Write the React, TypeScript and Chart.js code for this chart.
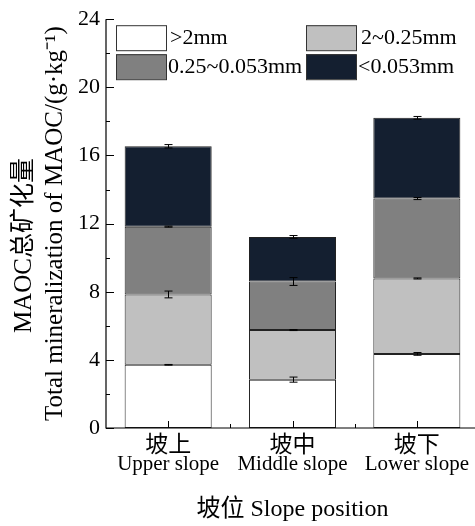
import React, { useEffect, useRef } from "react";
import { Chart, registerables } from "chart.js";

Chart.register(...registerables);

const categoriesZh = ["坡上", "坡中", "坡下"];
const categoriesEn = ["Upper slope", "Middle slope", "Lower slope"];
const seriesLabels = [">2mm", "2~0.25mm", "0.25~0.053mm", "<0.053mm"];
const seriesColors = ["#ffffff", "#c0c0c0", "#808080", "#141f30"];

const gt2 = [3.71, 2.84, 4.35];
const mid1 = [4.13, 2.91, 4.43];
const mid2 = [3.98, 2.85, 4.69];
const lt = [4.72, 2.62, 4.74];

const gt2Err = [0.02, 0.15, 0.08];
const mid1Err = [0.2, 0.03, 0.03];
const mid2Err = [0.03, 0.23, 0.06];
const ltErr = [0.1, 0.08, 0.08];

const yMin = 0;
const yMax = 24;
const yStep = 4;

const yTitleZh = "MAOC总矿化量";
const yTitleEn = "Total mineralization of MAOC/(g·kg⁻¹)";
const xTitle = "坡位 Slope position";

const FONT = '"Liberation Serif", "Times New Roman", "Noto Sans CJK SC", serif';
const CJK = '"Noto Sans CJK SC", "Liberation Serif", serif';

const seriesValues = [gt2, mid1, mid2, lt];
const seriesErrors = [gt2Err, mid1Err, mid2Err, ltErr];

const errorBarPlugin = {
  id: "errorBars",
  afterDatasetsDraw(chart: any) {
    const ctx = chart.ctx;
    const y = chart.scales.y;
    ctx.save();
    ctx.strokeStyle = "#000";
    ctx.lineWidth = 1;
    const cum = categoriesEn.map(() => 0);
    chart.data.datasets.forEach((ds: any, di: number) => {
      const meta = chart.getDatasetMeta(di);
      meta.data.forEach((el: any, i: number) => {
        cum[i] += ds.data[i];
        const e = seriesErrors[di][i];
        const top = y.getPixelForValue(cum[i] + e);
        const bot = y.getPixelForValue(cum[i] - e);
        const x = Math.round(el.x) + 0.5;
        ctx.beginPath();
        ctx.moveTo(x, top);
        ctx.lineTo(x, bot);
        ctx.moveTo(x - 4, top);
        ctx.lineTo(x + 4, top);
        ctx.moveTo(x - 4, bot);
        ctx.lineTo(x + 4, bot);
        ctx.stroke();
      });
    });
    ctx.restore();
  },
};

const axesPlugin = {
  id: "axesInward",
  afterDraw(chart: any) {
    const ctx = chart.ctx;
    const { left, right, top, bottom } = chart.chartArea;
    const x = chart.scales.x;
    const y = chart.scales.y;
    ctx.save();
    ctx.strokeStyle = "#000";
    ctx.lineWidth = 1.2;
    ctx.beginPath();
    ctx.moveTo(left, top);
    ctx.lineTo(left, bottom);
    ctx.lineTo(right, bottom);
    ctx.stroke();
    ctx.lineWidth = 1;
    ctx.beginPath();
    for (let v = yMin; v <= yMax; v += yStep / 2) {
      const py = Math.round(y.getPixelForValue(v)) + 0.5;
      const len = v % yStep === 0 ? 8 : 4;
      ctx.moveTo(left, py);
      ctx.lineTo(left + len, py);
    }
    const n = categoriesEn.length;
    for (let i = 0; i < n; i++) {
      const px = Math.round(x.getPixelForValue(i)) + 0.5;
      ctx.moveTo(px, bottom);
      ctx.lineTo(px, bottom - 7);
      if (i < n - 1) {
        const mx = Math.round((x.getPixelForValue(i) + x.getPixelForValue(i + 1)) / 2) + 0.5;
        ctx.moveTo(mx, bottom);
        ctx.lineTo(mx, bottom - 4);
      }
    }
    ctx.stroke();
    // category labels: Chinese line + English line
    ctx.fillStyle = "#000";
    ctx.textAlign = "center";
    for (let i = 0; i < n; i++) {
      const px = x.getPixelForValue(i);
      ctx.font = `23px ${CJK}`;
      ctx.textBaseline = "middle";
      ctx.fillText(categoriesZh[i], px, bottom + 15.5);
      ctx.font = `21px ${FONT}`;
      ctx.textBaseline = "alphabetic";
      ctx.fillText(categoriesEn[i], px, bottom + 42);
    }
    // first line of the y-axis title
    ctx.save();
    ctx.translate(24.6, (top + bottom) / 2 + 22);
    ctx.rotate(-Math.PI / 2);
    ctx.font = `25px ${FONT}`;
    ctx.textBaseline = "middle";
    ctx.textAlign = "center";
    ctx.fillText(yTitleZh, 0, 0);
    ctx.restore();
    ctx.restore();
  },
};

const legendPlugin = {
  id: "gridLegend",
  afterDraw(chart: any) {
    const ctx = chart.ctx;
    const { left, top } = chart.chartArea;
    const boxW = 50;
    const boxH = 25;
    const colX = [left + 10, left + 200];
    const rowY = [top + 6, top + 35];
    ctx.save();
    ctx.font = `22px ${FONT}`;
    ctx.textBaseline = "middle";
    ctx.textAlign = "left";
    chart.data.datasets.forEach((ds: any, i: number) => {
      const cx = colX[i % 2];
      const cy = rowY[Math.floor(i / 2)];
      ctx.fillStyle = ds.backgroundColor;
      ctx.fillRect(cx, cy, boxW, boxH);
      ctx.strokeStyle = "#333";
      ctx.lineWidth = 1;
      ctx.strokeRect(cx + 0.5, cy + 0.5, boxW, boxH);
      ctx.fillStyle = "#000";
      const dx = i === 1 ? 5 : i === 0 ? 4 : 2;
      ctx.fillText(ds.label, cx + boxW + dx, cy + boxH / 2 + 1);
    });
    ctx.restore();
  },
};

export default function App() {
  const ref = useRef<HTMLCanvasElement>(null);
  useEffect(() => {
    if (!ref.current) return;
    const chart = new Chart(ref.current, {
      type: "bar",
      data: {
        labels: categoriesEn,
        datasets: seriesValues.map((vals, i) => ({
          label: seriesLabels[i],
          data: vals,
          backgroundColor: seriesColors[i],
          borderColor: "#222",
          borderWidth: 1,
          borderSkipped: false,
          categoryPercentage: 1,
          barPercentage: 0.7,
        })),
      },
      options: {
        responsive: false,
        animation: false,
        layout: { padding: { top: 16, right: 0, left: 0, bottom: 0 } },
        plugins: { legend: { display: false }, tooltip: { enabled: false } },
        scales: {
          x: {
            stacked: true,
            grid: { display: false, drawTicks: false },
            border: { display: false },
            afterFit: (s: any) => {
              s.height = 98;
            },
            ticks: { display: false },
            title: {
              display: true,
              text: xTitle,
              color: "#000",
              padding: { top: 0, bottom: 2 },
              font: { family: FONT, size: 24, lineHeight: 1.2 },
            },
          },
          y: {
            stacked: true,
            min: yMin,
            max: yMax,
            grid: { display: false, drawTicks: false },
            border: { display: false },
            afterFit: (s: any) => {
              s.width = 106;
            },
            ticks: {
              stepSize: yStep,
              color: "#000",
              padding: 6,
              font: { family: FONT, size: 22 },
            },
            title: {
              display: true,
              text: yTitleEn,
              color: "#000",
              padding: { top: 40, bottom: 0 },
              font: { family: FONT, size: 25, lineHeight: 1.22 },
            },
          },
        },
      },
      plugins: [errorBarPlugin, axesPlugin, legendPlugin],
    });
    return () => chart.destroy();
  }, []);
  return (
    <div
      style={{
        position: "absolute",
        left: 0,
        top: 0,
        width: 475,
        height: 526,
        overflow: "hidden",
        background: "#fff",
      }}
    >
      <canvas ref={ref} width={479} height={526} style={{ display: "block" }} />
    </div>
  );
}
